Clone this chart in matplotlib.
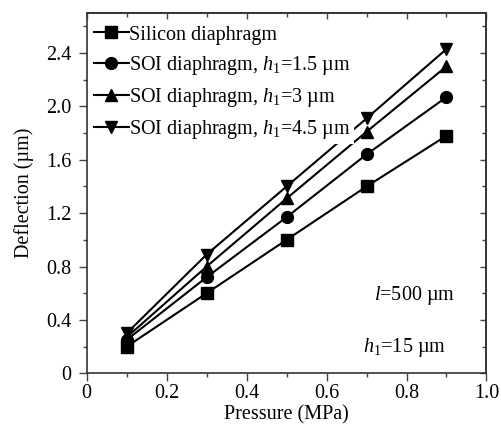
"""
Deflection of silicon and SOI diaphragms versus applied pressure.
"""
import matplotlib
matplotlib.use("Agg")
from matplotlib import pyplot as plt
from matplotlib.ticker import MultipleLocator

pressure = [0.1, 0.3, 0.5, 0.7, 0.9]
silicon = [0.20, 0.60, 1.00, 1.40, 1.78]
soi_1_5 = [0.25, 0.72, 1.17, 1.64, 2.07]
soi_3 = [0.27, 0.80, 1.31, 1.81, 2.30]
soi_4_5 = [0.30, 0.89, 1.40, 1.91, 2.43]

series_labels = [
    "Silicon diaphragm",
    r"SOI diaphragm, $h_{\mathrm{1}}$=1.5 µm",
    r"SOI diaphragm, $h_{\mathrm{1}}$=3 µm",
    r"SOI diaphragm, $h_{\mathrm{1}}$=4.5 µm",
]
markers = ["s", "o", "^", "v"]

xticks = [0, 0.2, 0.4, 0.6, 0.8, 1.0]
xtick_labels = ["0", "0.2", "0.4", "0.6", "0.8", "1.0"]
yticks = [0, 0.4, 0.8, 1.2, 1.6, 2.0, 2.4]
ytick_labels = ["0", "0.4", "0.8", "1.2", "1.6", "2.0", "2.4"]

FS = 14.5


def set_matplotlib_parameters():
    plt.rcParams.update({
        'font.family': 'Liberation Serif',
        'font.size': FS,
        'mathtext.fontset': 'custom',
        'mathtext.rm': 'Liberation Serif',
        'mathtext.it': 'Liberation Serif:italic',
        'mathtext.bf': 'Liberation Serif:bold',
        'axes.linewidth': 1.2,
        'axes.edgecolor': '#333333',
    })


set_matplotlib_parameters()

fig = plt.figure(figsize=(5.01, 4.26), dpi=100)
ax = fig.add_axes([0.173, 0.1237, 0.798, 0.8458])

for values, label, marker in zip([silicon, soi_1_5, soi_3, soi_4_5], series_labels, markers):
    ax.plot(pressure, values, color='black', linewidth=1.5, marker=marker,
            markersize=8.5, label=label)

ax.set_xlim(0, 1.0)
ax.set_ylim(0, 2.7)
ax.set_xticks(xticks)
ax.set_xticklabels(xtick_labels)
ax.set_yticks(yticks)
ax.set_yticklabels(ytick_labels)
ax.xaxis.set_minor_locator(MultipleLocator(0.1))
ax.yaxis.set_minor_locator(MultipleLocator(0.2))

# bottom/left ticks point out, mirrored top/right ticks point in
ax.tick_params(which='both', direction='out', labelsize=FS, color='#444444')
ax.tick_params(which='major', length=6, width=1)
ax.tick_params(which='minor', length=3, width=1)
ax.tick_params(axis='y', pad=5)
ax.tick_params(axis='x', pad=2)

top = ax.secondary_xaxis('top')
top.set_xticks(xticks)
top.xaxis.set_minor_locator(MultipleLocator(0.1))
top.tick_params(which='both', direction='in', labeltop=False, color='#444444', width=1)
top.tick_params(which='major', length=4)
top.tick_params(which='minor', length=3)

right = ax.secondary_yaxis('right')
right.set_yticks(yticks)
right.yaxis.set_minor_locator(MultipleLocator(0.2))
right.tick_params(which='both', direction='in', labelright=False, color='#444444', width=1)
right.tick_params(which='major', length=4)
right.tick_params(which='minor', length=3)

ax.set_xlabel('Pressure (MPa)', fontsize=FS, labelpad=1)
ax.set_ylabel('Deflection (µm)', fontsize=FS, labelpad=9)

ax.text(0.921, 0.217, r'$l$=500 µm', transform=ax.transAxes, ha='right',
        va='center', fontsize=FS)
ax.text(0.90, 0.073, r'$h_{\mathrm{1}}$=15 µm', transform=ax.transAxes, ha='right',
        va='center', fontsize=FS)

leg = ax.legend(loc='upper left', bbox_to_anchor=(0.0, 0.985), frameon=True,
                fancybox=False, edgecolor='none', facecolor='white', framealpha=1,
                fontsize=FS, handlelength=1.75, handletextpad=0.0,
                labelspacing=0.45, borderpad=0.15, borderaxespad=0.2)

fig.savefig('out.png', dpi=100)
